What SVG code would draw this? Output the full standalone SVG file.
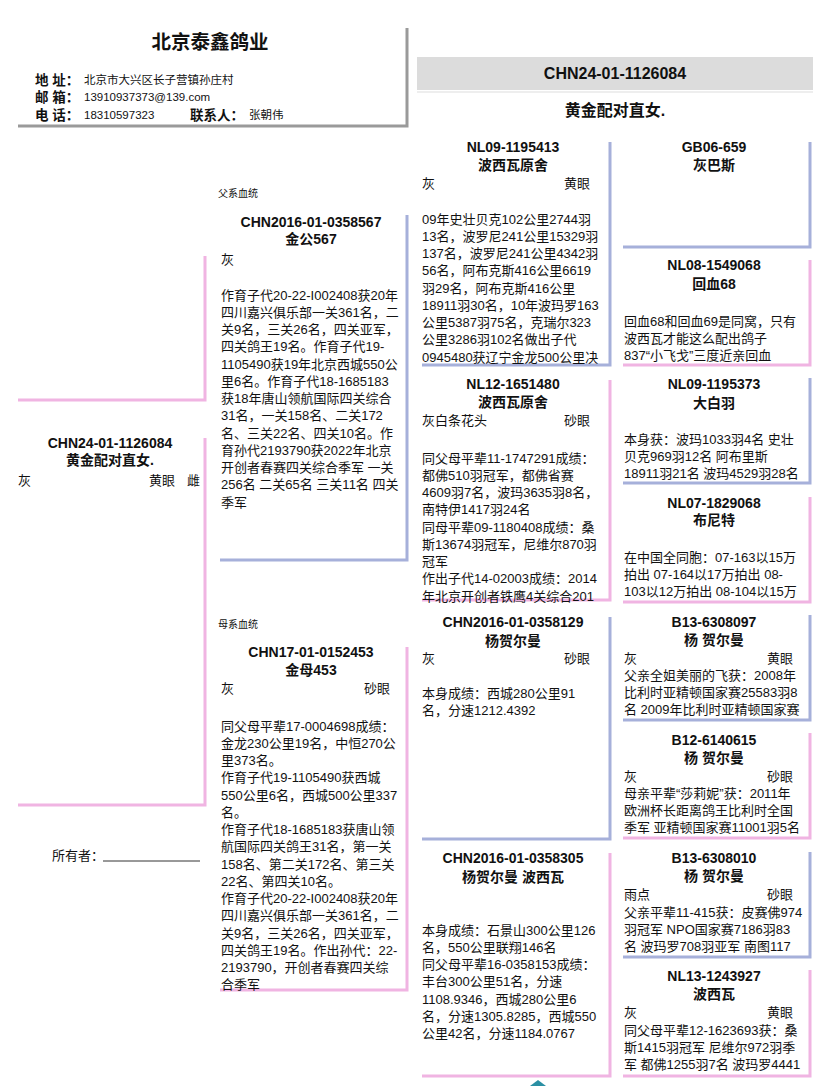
<svg xmlns="http://www.w3.org/2000/svg" width="828" height="1086" viewBox="0 0 828 1086">
<style>
text{font-family:"Liberation Sans","Noto Sans CJK SC",sans-serif;fill:#111}
.t{font-size:14px;font-weight:bold;text-anchor:middle}
.b{font-size:13px}
.r{text-anchor:end}
.s{font-size:10px}
.hl{font-size:13.5px;font-weight:bold}
.hv{font-size:11.5px}
.bl{stroke:#a6b0da;stroke-width:3;fill:none}
.pk{stroke:#f0b4e2;stroke-width:3;fill:none}
</style>
<rect width="828" height="1086" fill="#fff"/>

<g id="header">
<path d="M18 126 H407 V28" stroke="#9a9a9a" stroke-width="3" fill="none"/>
<text x="210" y="49" font-size="19.5" font-weight="bold" text-anchor="middle">北京泰鑫鸽业</text>
<text x="35" y="85" class="hl">地 址：</text>
<text x="84" y="84" class="hv">北京市大兴区长子营镇孙庄村</text>
<text x="35" y="102" class="hl">邮 箱：</text>
<text x="84" y="101" class="hv">13910937373@139.com</text>
<text x="35" y="120" class="hl">电 话：</text>
<text x="84" y="119" class="hv">18310597323</text>
<text x="190" y="120" class="hl">联系人：</text>
<text x="249" y="119" class="hv">张朝伟</text>
</g>

<g id="title">
<rect x="417" y="57" width="396" height="33" fill="#dcdcdc"/>
<line x1="417" y1="92" x2="813" y2="92" stroke="#eeeeee" stroke-width="2"/>
<text x="615" y="79" font-size="16" font-weight="bold" text-anchor="middle">CHN24-01-1126084</text>
<text x="615" y="116" font-size="16" font-weight="bold" text-anchor="middle">黄金配对直女.</text>
</g>

<g id="connectors">
<path class="pk" d="M205 256 V400 H18"/>
<path class="pk" d="M205 438 V805 H18"/>
</g>

<g id="subject">
<text x="110" y="448" class="t">CHN24-01-1126084</text>
<text x="110" y="465" class="t" font-size="13">黄金配对直女.</text>
<text x="18" y="485" class="b">灰</text>
<text x="175" y="485" class="b r">黄眼</text>
<text x="200" y="485" class="b r">雌</text>
</g>

<g id="owner">
<text x="52" y="860" class="b">所有者：</text>
<line x1="103" y1="861" x2="200" y2="861" stroke="#333" stroke-width="1"/>
</g>

<g id="sire">
<text x="218" y="197" class="s">父系血统</text>
<path class="bl" d="M407 215 V560 H220"/>
<text x="311" y="227" class="t">CHN2016-01-0358567</text>
<text x="311" y="244" class="t">金公567</text>
<text x="221" y="263.5" class="b">灰</text>
<text x="221" y="299.5" class="b">作育子代20-22-I002408获20年</text>
<text x="221" y="316.75" class="b">四川嘉兴俱乐部一关361名，二</text>
<text x="221" y="334" class="b">关9名，三关26名，四关亚军，</text>
<text x="221" y="351.25" class="b">四关鸽王19名。作育子代19-</text>
<text x="221" y="368.5" class="b">1105490获19年北京西城550公</text>
<text x="221" y="385.75" class="b">里6名。作育子代18-1685183</text>
<text x="221" y="403" class="b">获18年唐山领航国际四关综合</text>
<text x="221" y="420.25" class="b">31名，一关158名、二关172</text>
<text x="221" y="437.5" class="b">名、三关22名、四关10名。作</text>
<text x="221" y="454.75" class="b">育孙代2193790获2022年北京</text>
<text x="221" y="472" class="b">开创者春赛四关综合季军 一关</text>
<text x="221" y="489.25" class="b">256名 二关65名 三关11名 四关</text>
<text x="221" y="506.5" class="b">季军</text>
</g>

<g id="dam">
<text x="218" y="628" class="s">母系血统</text>
<path class="pk" d="M407 647 V990 H220"/>
<text x="311" y="657" class="t">CHN17-01-0152453</text>
<text x="311" y="675" class="t">金母453</text>
<text x="221" y="692.5" class="b">灰</text>
<text x="390" y="692.5" class="b r">砂眼</text>
<text x="221" y="730.5" class="b">同父母平辈17-0004698成绩：</text>
<text x="221" y="747.75" class="b">金龙230公里19名，中恒270公</text>
<text x="221" y="765" class="b">里373名。</text>
<text x="221" y="782.25" class="b">作育子代19-1105490获西城</text>
<text x="221" y="799.5" class="b">550公里6名，西城500公里337</text>
<text x="221" y="816.75" class="b">名。</text>
<text x="221" y="834" class="b">作育子代18-1685183获唐山领</text>
<text x="221" y="851.25" class="b">航国际四关鸽王31名，第一关</text>
<text x="221" y="868.5" class="b">158名、第二关172名、第三关</text>
<text x="221" y="885.75" class="b">22名、第四关10名。</text>
<text x="221" y="903" class="b">作育子代20-22-I002408获20年</text>
<text x="221" y="920.25" class="b">四川嘉兴俱乐部一关361名，二</text>
<text x="221" y="937.5" class="b">关9名，三关26名，四关亚军，</text>
<text x="221" y="954.75" class="b">四关鸽王19名。作出孙代：22-</text>
<text x="221" y="972" class="b">2193790，开创者春赛四关综</text>
<text x="221" y="989.25" class="b">合季军</text>
</g>

<g id="ss">
<path class="bl" d="M610 142 V365 H422"/>
<text x="513" y="152" class="t">NL09-1195413</text>
<text x="513" y="170" class="t">波西瓦原舍</text>
<text x="422" y="187.5" class="b">灰</text>
<text x="590" y="187.5" class="b r">黄眼</text>
<text x="422" y="223.5" class="b">09年史壮贝克102公里2744羽</text>
<text x="422" y="240.75" class="b">13名，波罗尼241公里15329羽</text>
<text x="422" y="258" class="b">137名，波罗尼241公里4342羽</text>
<text x="422" y="275.25" class="b">56名，阿布克斯416公里6619</text>
<text x="422" y="292.5" class="b">羽29名，阿布克斯416公里</text>
<text x="422" y="309.75" class="b">18911羽30名，10年波玛罗163</text>
<text x="422" y="327" class="b">公里5387羽75名，克瑞尔323</text>
<text x="422" y="344.25" class="b">公里3286羽102名做出子代</text>
<text x="422" y="361.5" class="b">0945480获辽宁金龙500公里决</text>
</g>

<g id="sd">
<path class="pk" d="M610 380 V600 H422"/>
<text x="513" y="389" class="t">NL12-1651480</text>
<text x="513" y="407" class="t">波西瓦原舍</text>
<text x="422" y="424.5" class="b">灰白条花头</text>
<text x="590" y="424.5" class="b r">砂眼</text>
<text x="422" y="462.5" class="b">同父母平辈11-1747291成绩：</text>
<text x="422" y="479.75" class="b">都佛510羽冠军，都佛省赛</text>
<text x="422" y="497" class="b">4609羽7名，波玛3635羽8名，</text>
<text x="422" y="514.25" class="b">南特伊1417羽24名</text>
<text x="422" y="531.5" class="b">同母平辈09-1180408成绩：桑</text>
<text x="422" y="548.75" class="b">斯13674羽冠军，尼维尔870羽</text>
<text x="422" y="566" class="b">冠军</text>
<text x="422" y="583.25" class="b">作出子代14-02003成绩：2014</text>
<text x="422" y="600.5" class="b">年北京开创者铁鹰4关综合201</text>
</g>

<g id="ds">
<path class="bl" d="M610 617 V839 H422"/>
<text x="513" y="627" class="t">CHN2016-01-0358129</text>
<text x="513" y="646" class="t">杨贺尔曼</text>
<text x="422" y="662.5" class="b">灰</text>
<text x="590" y="662.5" class="b r">砂眼</text>
<text x="422" y="697.5" class="b">本身成绩：西城280公里91</text>
<text x="422" y="714.75" class="b">名，分速1212.4392</text>
</g>

<g id="dd">
<path class="pk" d="M610 853 V1076 H422"/>
<text x="513" y="863" class="t">CHN2016-01-0358305</text>
<text x="513" y="882" class="t">杨贺尔曼 波西瓦</text>
<text x="422" y="934.5" class="b">本身成绩：石景山300公里126</text>
<text x="422" y="951.75" class="b">名，550公里联翔146名</text>
<text x="422" y="969" class="b">同父母平辈16-0358153成绩：</text>
<text x="422" y="986.25" class="b">丰台300公里51名，分速</text>
<text x="422" y="1003.5" class="b">1108.9346，西城280公里6</text>
<text x="422" y="1020.75" class="b">名，分速1305.8285，西城550</text>
<text x="422" y="1038" class="b">公里42名，分速1184.0767</text>
</g>

<g id="sss">
<path class="bl" d="M810 142 V247 H623"/>
<text x="714" y="152" class="t">GB06-659</text>
<text x="714" y="170" class="t">灰巴斯</text>
</g>
<g id="ssd">
<path class="pk" d="M810 260 V365 H623"/>
<text x="714" y="270" class="t">NL08-1549068</text>
<text x="714" y="289" class="t">回血68</text>
<text x="624" y="325.5" class="b">回血68和回血69是同窝，只有</text>
<text x="624" y="342.75" class="b">波西瓦才能这么配出鸽子</text>
<text x="624" y="360" class="b">837“小飞戈”三度近亲回血</text>
</g>
<g id="sds">
<path class="bl" d="M810 378 V483 H623"/>
<text x="714" y="389" class="t">NL09-1195373</text>
<text x="714" y="408" class="t">大白羽</text>
<text x="624" y="443.5" class="b">本身获：波玛1033羽4名 史壮</text>
<text x="624" y="460.75" class="b">贝克969羽12名 阿布里斯</text>
<text x="624" y="478" class="b">18911羽21名 波玛4529羽28名</text>
</g>
<g id="sdd">
<path class="pk" d="M810 497 V602 H623"/>
<text x="714" y="508" class="t">NL07-1829068</text>
<text x="714" y="525" class="t">布尼特</text>
<text x="624" y="561.5" class="b">在中国全同胞：07-163以15万</text>
<text x="624" y="578.75" class="b">拍出 07-164以17万拍出 08-</text>
<text x="624" y="596" class="b">103以12万拍出 08-104以15万</text>
</g>
<g id="dss">
<path class="bl" d="M810 615 V720 H623"/>
<text x="714" y="627" class="t">B13-6308097</text>
<text x="714" y="645" class="t">杨 贺尔曼</text>
<text x="624" y="662.5" class="b">灰</text>
<text x="793" y="662.5" class="b r">黄眼</text>
<text x="624" y="679.75" class="b">父亲全姐美丽的飞获：2008年</text>
<text x="624" y="697" class="b">比利时亚精顿国家赛25583羽8</text>
<text x="624" y="714.25" class="b">名 2009年比利时亚精顿国家赛</text>
</g>
<g id="dsd">
<path class="pk" d="M810 733 V838 H623"/>
<text x="714" y="745" class="t">B12-6140615</text>
<text x="714" y="763" class="t">杨 贺尔曼</text>
<text x="624" y="780.5" class="b">灰</text>
<text x="793" y="780.5" class="b r">砂眼</text>
<text x="624" y="797.75" class="b">母亲平辈“莎莉妮”获：2011年</text>
<text x="624" y="815" class="b">欧洲杯长距离鸽王比利时全国</text>
<text x="624" y="832.25" class="b">季军 亚精顿国家赛11001羽5名</text>
</g>
<g id="dds">
<path class="bl" d="M810 852 V957 H623"/>
<text x="714" y="863" class="t">B13-6308010</text>
<text x="714" y="881" class="t">杨 贺尔曼</text>
<text x="624" y="898.5" class="b">雨点</text>
<text x="793" y="898.5" class="b r">砂眼</text>
<text x="624" y="916.5" class="b">父亲平辈11-415获：皮赛佛974</text>
<text x="624" y="933.75" class="b">羽冠军 NPO国家赛7186羽83</text>
<text x="624" y="951" class="b">名 波玛罗708羽亚军 南图117</text>
</g>
<g id="ddd">
<path class="pk" d="M810 970 V1076 H623"/>
<text x="714" y="981" class="t">NL13-1243927</text>
<text x="714" y="999" class="t">波西瓦</text>
<text x="624" y="1016.5" class="b">灰</text>
<text x="793" y="1016.5" class="b r">黄眼</text>
<text x="624" y="1034.5" class="b">同父母平辈12-1623693获：桑</text>
<text x="624" y="1051.75" class="b">斯1415羽冠军 尼维尔972羽季</text>
<text x="624" y="1069" class="b">军 都佛1255羽7名 波玛罗4441</text>
</g>

<path d="M530 1086 L538 1080 L546 1086 Z" fill="#2a8fa3"/>
</svg>
